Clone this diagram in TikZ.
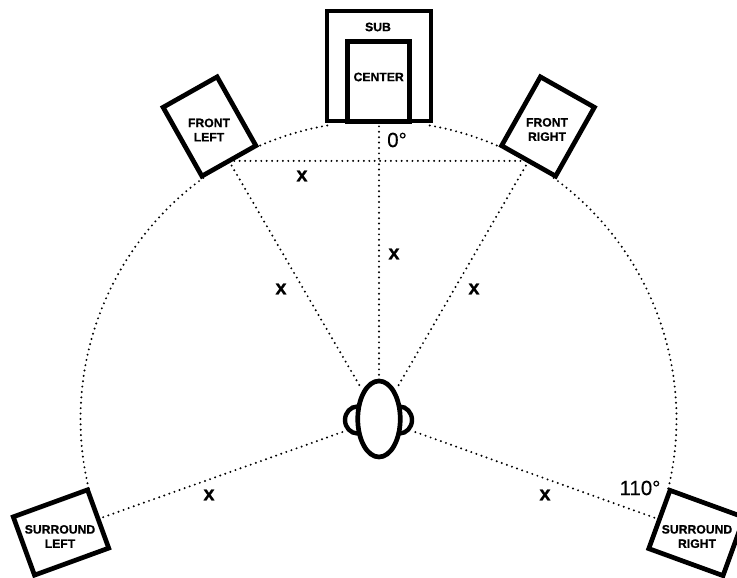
\documentclass[tikz,border=0pt]{standalone}
\usepackage{fontspec}
\setmainfont{Liberation Sans}
\newfontfamily\heavyfont[BoldFont={Liberation Sans Bold},BoldFeatures={FakeBold=0.7}]{Liberation Sans}
\newfontfamily\anglefont[FakeBold=0.25]{Liberation Sans}
\usetikzlibrary{shapes.geometric}
\tikzset{
  x=1pt,y=1pt,
  box/.style={draw=black,line width=4.7pt,rectangle,inner sep=0pt,outer sep=0pt,miter limit=10},
  tall/.style={box,minimum width=62pt,minimum height=79pt},
  wide/.style={box,minimum width=79pt,minimum height=62pt},
  spk/.style={font=\fontsize{12.2pt}{14.3pt}\selectfont\heavyfont\bfseries,align=center,inner sep=0pt},
  dist/.style={font=\fontsize{20pt}{20pt}\selectfont\heavyfont\bfseries,inner sep=0pt},
  ang/.style={font=\fontsize{20.5pt}{20pt}\selectfont\anglefont,inner sep=0pt},
  dotted line/.style={line width=2.2pt,line cap=round,dash pattern=on 0pt off 5.4pt},
  earshape/.style={draw=black,line width=4.4pt,ellipse,minimum width=25pt,minimum height=27pt,inner sep=0pt},
  headshape/.style={draw=black,line width=4.7pt,ellipse,inner sep=0pt,outer sep=0pt,fill=white}
}
\begin{document}
\begin{tikzpicture}
\useasboundingbox (0,0) rectangle (737,578);
\fill[white] (0,0) rectangle (737,578);
\coordinate (room) at (378.5,159);
% arc
\draw[dotted line] (room) ++(99.9:298) arc[start angle=99.9,end angle=114,radius=298];
\draw[dotted line] (room) ++(126:298) arc[start angle=126,end angle=193.6,radius=298];
\draw[dotted line] (room) ++(80.1:298) arc[start angle=80.1,end angle=66,radius=298];
\draw[dotted line] (room) ++(54:298) arc[start angle=54,end angle=-13.6,radius=298];
% speakers
\node[box,minimum width=104pt,minimum height=110pt] (sub) at (379,512) {};
\node[box,minimum width=62pt,minimum height=80pt] (center) at (378.2,496.3) {};
\node[tall,rotate=29.4] (fl) at (209.5,451.5) {};
\node[tall,rotate=-29.4] (fr) at (548,451.5) {};
\node[wide,rotate=20] (sl) at (61,45.5) {};
\node[wide,rotate=-20] (sr) at (696.5,45) {};
% listener
\node[earshape] (earl) at (357.5,158) {};
\node[earshape] (earr) at (399.5,158) {};
\node[headshape,minimum width=42.5pt,minimum height=76pt] (head) at (379,159) {};
% connectors
\draw[dotted line] (fl.south) -- (fr.south);
\draw[dotted line,shorten >=5pt] (sub.south) -- (head.north);
\draw[dotted line,shorten >=8pt] (fl.south) -- (head);
\draw[dotted line,shorten >=8pt] (fr.south) -- (head);
\draw[dotted line,shorten >=15pt] (sl.east) -- (head);
\draw[dotted line,shorten >=15pt] (sr.west) -- (head);
% text
\node[spk] (t1) at (378,551) {SUB};
\node[spk] (t2) at (378.7,501) {CENTER};
\node[spk] (t3) at (209,448) {FRONT\\LEFT};
\node[spk] (t4) at (547,448.5) {FRONT\\RIGHT};
\node[spk] (t5) at (60,41.5) {SURROUND\\LEFT};
\node[spk] (t6) at (697,41.5) {SURROUND\\RIGHT};
\node[dist] (x1) at (302,402) {x};
\node[dist] (x2) at (394,324) {x};
\node[dist] (x3) at (281,289) {x};
\node[dist] (x4) at (474,289) {x};
\node[dist] (x5) at (209,83) {x};
\node[dist] (x6) at (545,83) {x};
\node[ang] (a0) at (397,438) {0°};
\node[ang] (a1) at (640,90) {110°};
\end{tikzpicture}
\end{document}
